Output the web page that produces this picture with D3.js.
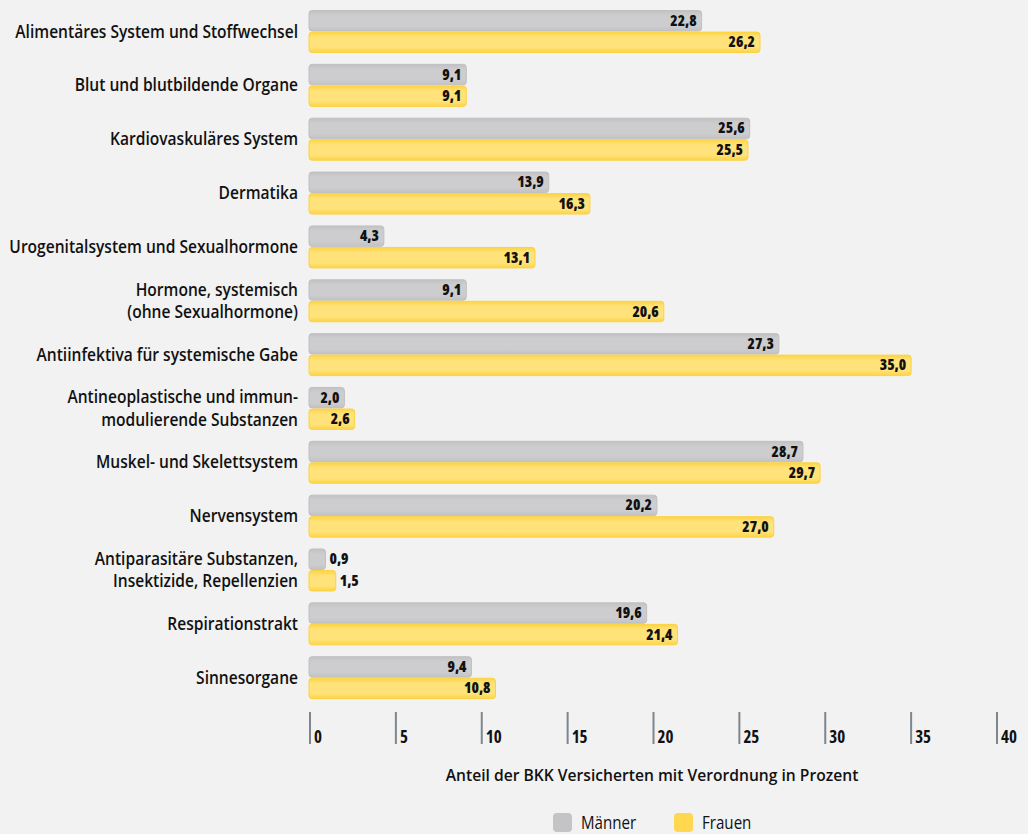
<!DOCTYPE html>
<html>
<head>
<meta charset="utf-8">
<script src="https://cdn.jsdelivr.net/npm/d3@7"></script>
<style>
  html, body { margin: 0; padding: 0; background: #f2f2f2; }
  svg { display: block; }
  text { font-family: "Open Sans", "DejaVu Sans", sans-serif; fill: #111; }
  text.cond { font-stretch: 75%; }
</style>
</head>
<body>
<svg id="chart" width="1028" height="834"></svg>
<script>
// Anatomical groups (ATC main groups); line breaks in labels marked with "\n"
const categories = [
  "Alimentäres System und Stoffwechsel",
  "Blut und blutbildende Organe",
  "Kardiovaskuläres System",
  "Dermatika",
  "Urogenitalsystem und Sexualhormone",
  "Hormone, systemisch\n(ohne Sexualhormone)",
  "Antiinfektiva für systemische Gabe",
  "Antineoplastische und immun-\nmodulierende Substanzen",
  "Muskel- und Skelettsystem",
  "Nervensystem",
  "Antiparasitäre Substanzen,\nInsektizide, Repellenzien",
  "Respirationstrakt",
  "Sinnesorgane"
];
const series = ["Männer", "Frauen"];
const maenner = [22.8, 9.1, 25.6, 13.9, 4.3, 9.1, 27.3, 2.0, 28.7, 20.2, 0.9, 19.6, 9.4];
const frauen  = [26.2, 9.1, 25.5, 16.3, 13.1, 20.6, 35.0, 2.6, 29.7, 27.0, 1.5, 21.4, 10.8];
const ticks = [0, 5, 10, 15, 20, 25, 30, 35, 40];
const axisTitle = "Anteil der BKK Versicherten mit Verordnung in Prozent";

const svg = d3.select("#chart");
const fmt = v => d3.format(".1f")(v).replace(".", ",");

const x = d3.scaleLinear().domain([0, 40]).range([310, 997]);
const y = d3.scaleBand().domain(categories).range([4.6, 704.6])
  .paddingInner(0.22).paddingOuter(0.11);
const ySub = d3.scaleBand().domain(series).range([0, y.bandwidth()]).paddingInner(0.05);

// Gradients for the bar fills
const defs = svg.append("defs");
function grad(id, edge, mid) {
  const g = defs.append("linearGradient").attr("id", id)
    .attr("x1", 0).attr("y1", 0).attr("x2", 0).attr("y2", 1);
  g.append("stop").attr("offset", "0%").attr("stop-color", edge);
  g.append("stop").attr("offset", "25%").attr("stop-color", mid);
  g.append("stop").attr("offset", "75%").attr("stop-color", mid);
  g.append("stop").attr("offset", "100%").attr("stop-color", edge);
}
grad("gM", "#c2c2c4", "#cdcdcf");
grad("gF", "#fdd444", "#ffe27a");
const fills = { "Männer": "url(#gM)", "Frauen": "url(#gF)" };
const strokes = { "Männer": "#c0c0c2", "Frauen": "#fbd340" };
const legendFills = { "Männer": "#c4c4c6", "Frauen": "#ffd84f" };

// Category labels (semi-condensed look via a horizontal squeeze)
const labels = svg.append("g").selectAll("text").data(categories).join("text")
  .attr("text-anchor", "end")
  .attr("font-size", 17.5)
  .attr("font-weight", 600)
  .attr("transform", d => `translate(298,${y(d) + y.bandwidth() / 2}) scale(0.89,1)`);
labels.each(function(d) {
  const lines = d.split("\n");
  const t = d3.select(this);
  lines.forEach((ln, i) => {
    t.append("tspan").attr("x", 0)
      .attr("y", (i - (lines.length - 1) / 2) * 22.5 + 6)
      .text(ln);
  });
});

// Bars
const rows = categories.map((c, i) => ({ c, vals: [
  { s: "Männer", v: maenner[i] }, { s: "Frauen", v: frauen[i] } ] }));
const rowG = svg.append("g").selectAll("g").data(rows).join("g")
  .attr("transform", d => `translate(0,${y(d.c)})`);

rowG.selectAll("rect").data(d => d.vals).join("rect")
  .attr("x", x(0) - 1)
  .attr("y", d => ySub(d.s))
  .attr("width", d => x(d.v) - x(0) + 1)
  .attr("height", ySub.bandwidth())
  .attr("rx", 3)
  .attr("fill", d => fills[d.s])
  .attr("stroke", d => strokes[d.s])
  .attr("stroke-width", 1);

// Value labels: inside the bar end, or just outside for very short bars
rowG.selectAll("text.val").data(d => d.vals).join("text")
  .attr("class", "val cond")
  .attr("font-size", 15)
  .attr("font-weight", 800)
  .attr("text-anchor", d => d.v < 2 ? "start" : "end")
  .attr("x", d => d.v < 2 ? x(d.v) + 4 : x(d.v) - 5)
  .attr("y", d => ySub(d.s) + ySub.bandwidth() / 2 + 5)
  .text(d => fmt(d.v));

// Axis ticks
const axisG = svg.append("g");
axisG.selectAll("line").data(ticks).join("line")
  .attr("x1", d => x(d)).attr("x2", d => x(d))
  .attr("y1", 712).attr("y2", 744)
  .attr("stroke", "#7c868e").attr("stroke-width", 2);
axisG.selectAll("text").data(ticks).join("text")
  .attr("class", "cond")
  .attr("x", d => x(d) + 4)
  .attr("y", 743)
  .attr("font-size", 17)
  .attr("font-weight", 700)
  .text(d => d);

svg.append("text")
  .attr("transform", "translate(652,781) scale(0.92,1)")
  .attr("text-anchor", "middle")
  .attr("font-size", 17)
  .attr("font-weight", 600)
  .text(axisTitle);

// Legend
const legendX = { "Männer": 553, "Frauen": 674 };
const lg = svg.append("g").selectAll("g").data(series).join("g")
  .attr("transform", d => `translate(${legendX[d]},813)`);
lg.append("rect").attr("width", 19).attr("height", 19).attr("rx", 4)
  .attr("fill", d => legendFills[d]);
lg.append("text")
  .attr("transform", "translate(28,16) scale(0.84,1)")
  .attr("font-size", 18)
  .text(d => d);
</script>
</body>
</html>
